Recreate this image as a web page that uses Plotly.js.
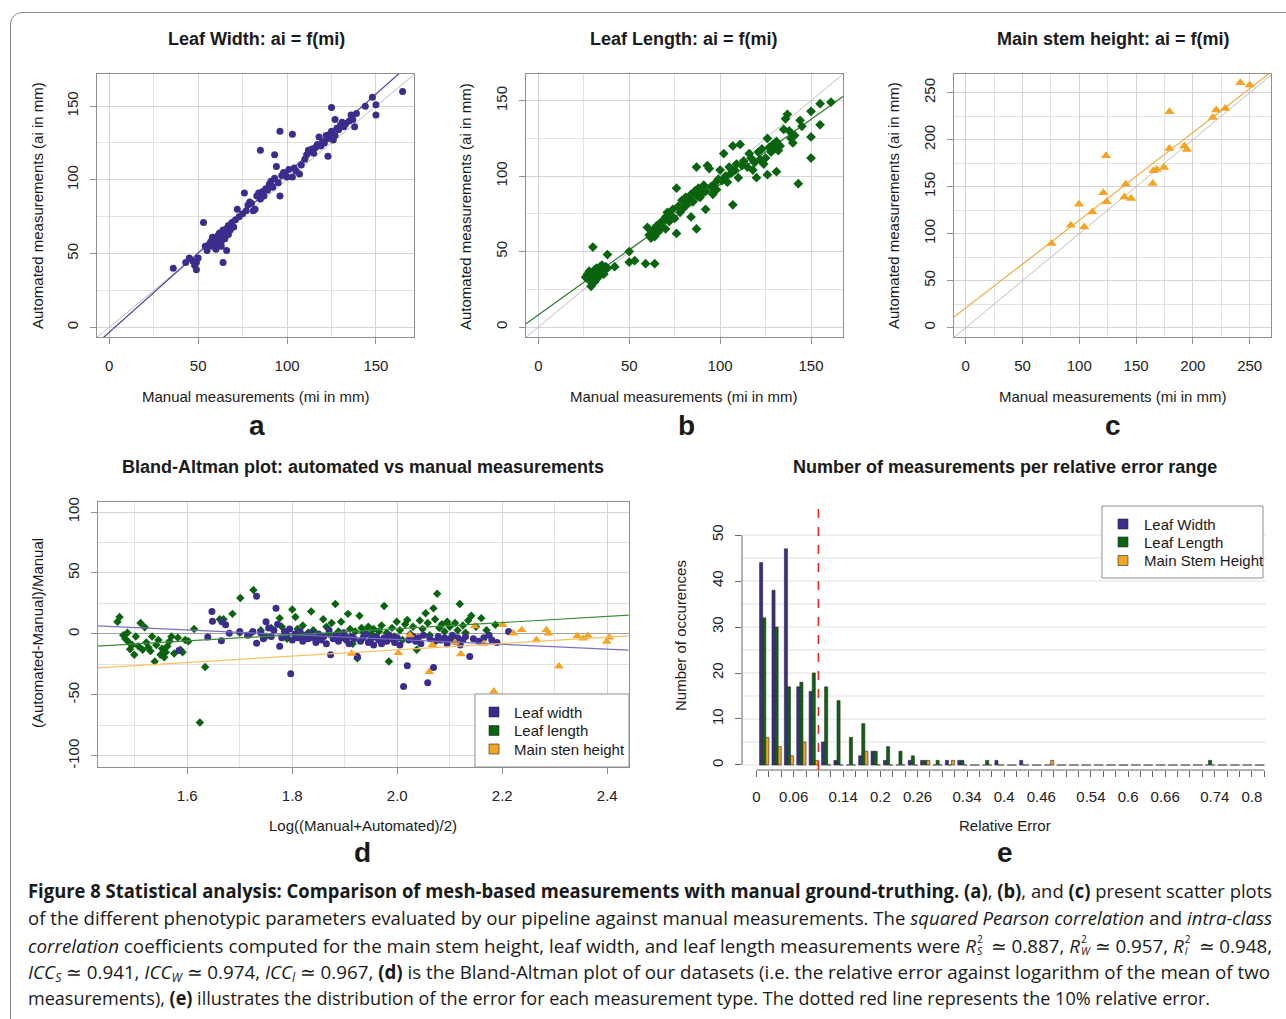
<!DOCTYPE html>
<html><head><meta charset="utf-8">
<script src="https://cdn.plot.ly/plotly-3.0.1.min.js"></script>
<style>
html,body{margin:0;padding:0;background:#fff;}
body{width:1286px;height:1019px;overflow:hidden;position:relative;}
#plot{position:absolute;left:0;top:0;width:1286px;height:1019px;}
#frame{position:absolute;left:10px;top:12px;width:1300px;height:1060px;border:1px solid #8a8a8a;border-radius:12px;box-sizing:border-box;pointer-events:none;}
.cap{position:absolute;left:28px;height:20px;line-height:20px;white-space:nowrap;font-family:"Open Sans","Noto Sans",sans-serif;font-size:19px;color:#1a1a1a;}
.cap span.inner{display:inline-block;transform-origin:0 50%;}
.st{display:inline-block;position:relative;width:10px;height:19px;vertical-align:baseline;}
.st .sp{position:absolute;left:1px;top:0px;font-size:10.5px;line-height:10px;}
.st .sb{position:absolute;left:1px;top:12px;font-size:10.5px;line-height:10px;font-style:italic;}
sub.s{font-size:0.65em;vertical-align:-0.25em;line-height:0;}
</style></head>
<body>
<div id="plot"></div>
<div id="frame"></div>
<div class="cap" id="c1" style="top:881px" data-w="1244"><span class="inner"><b>Figure 8 Statistical analysis: Comparison of mesh-based measurements with manual ground-truthing. (a)</b>, <b>(b)</b>, and <b>(c)</b> present scatter plots</span></div>
<div class="cap" id="c2" style="top:908px" data-w="1244"><span class="inner">of the different phenotypic parameters evaluated by our pipeline against manual measurements. The <i>squared Pearson correlation</i> and <i>intra-class</i></span></div>
<div class="cap" id="c3" style="top:934px" data-w="1244"><span class="inner"><i>correlation</i> coefficients computed for the main stem height, leaf width, and leaf length measurements were <i>R</i><span class="st"><span class="sp">2</span><span class="sb">S</span></span> ≃ 0.887, <i>R</i><span class="st"><span class="sp">2</span><span class="sb">W</span></span> ≃ 0.957, <i>R</i><span class="st"><span class="sp">2</span><span class="sb">l</span></span> ≃ 0.948,</span></div>
<div class="cap" id="c4" style="top:962px" data-w="1242"><span class="inner"><i>ICC<sub class="s">S</sub></i> ≃ 0.941, <i>ICC<sub class="s">W</sub></i> ≃ 0.974, <i>ICC<sub class="s">l</sub></i> ≃ 0.967, <b>(d)</b> is the Bland-Altman plot of our datasets (i.e. the relative error against logarithm of the mean of two</span></div>
<div class="cap" id="c5" style="top:988px" data-w="1182"><span class="inner">measurements), <b>(e)</b> illustrates the distribution of the error for each measurement type. The dotted red line represents the 10% relative error.</span></div>
<script>
// ---------------- DATA ----------------
// Panel a: Leaf width [manual, automated]
const leafWidthPts = [[36,40],[43,44],[45,47],[47,45],[48,42],[49,39],[49,44],[50,47],
[53,71],[54,55],[55,52],[56,56],[57,58],[58,55],[58,61],[59,57],[60,59],[60,53],[61,62],[61,56],[62,60],[62,64],[63,58],[63,55],[64,62],[64,66],[64,44],[65,60],[65,64],[66,67],[66,52],[67,63],[67,69],[68,66],[69,71],[70,68],[71,73],[72,80],[73,75],[75,77],[76,91],[77,79],[78,83],[79,85],[80,84],[81,79],[82,80],[83,89],[84,91],[85,87],[85,120],[86,92],[87,89],[88,94],[89,93],[90,97],[91,99],[92,95],[93,117],[93,101],[94,109],[95,98],[96,133],[96,89],[97,103],[98,105],[99,104],[100,102],[101,107],[103,131],[103,102],[104,108],[105,106],[107,104],[108,110],[110,114],[111,117],[112,120],[113,119],[114,121],[115,118],[116,122],[117,124],[118,129],[119,123],[120,126],[121,125],[122,130],[123,116],[123,128],[124,131],[125,133],[125,149],[126,127],[127,141],[127,130],[128,135],[129,134],[130,137],[131,139],[132,136],[133,138],[135,140],[136,144],[137,141],[138,136],[139,145],[144,150],[148,156],[150,151],[150,144],[165,160]];
// Panel b: Leaf length [manual, automated]
const leafLengthPts = [[26,33],[27,35],[28,31],[28,37],[29,27],[29,34],[30,36],[30,53],[30,32],[31,38],[31,30],[32,35],[32,39],[33,36],[33,33],[34,40],[34,37],[35,38],[35,41],[36,39],[36,35],[37,40],[38,48],[38,39],[42,40],[50,50],[50,43],[53,44],[59,42],[64,42],
[60,66],[61,61],[62,59],[63,64],[64,60],[65,67],[66,63],[67,69],[68,66],[69,71],[70,65],[70,73],[71,76],[72,70],[73,74],[74,78],[75,72],[76,92],[76,62],[77,80],[78,76],[79,84],[80,79],[81,86],[82,82],[83,85],[84,73],[84,88],[85,83],[86,90],[87,106],[87,65],[87,87],[88,92],[89,86],[90,89],[91,94],[92,78],[92,90],[93,107],[94,105],[95,93],[96,88],[97,95],[98,91],[99,98],[100,104],[101,97],[102,115],[103,100],[104,96],[105,106],[106,102],[107,120],[107,81],[108,104],[109,108],[110,99],[111,121],[112,107],[113,110],[115,106],[116,115],[117,112],[118,104],[119,109],[120,99],[121,116],[122,111],[123,118],[124,108],[125,112],[126,125],[126,101],[127,119],[128,116],[129,121],[130,118],[131,103],[131,123],[132,117],[133,120],[135,131],[136,138],[137,141],[138,130],[139,125],[140,122],[141,127],[143,95],[144,137],[145,133],[150,143],[150,126],[150,112],[155,148],[155,134],[161,149]];
// Panel c: Main stem height [manual, automated]
const stemHeightPts = [[75.6,89.5],[92.6,109],[99.7,131.4],[104.4,107],[111.5,123],[121.2,143.5],[123.5,183],[124.1,134],[139.7,139],[140.9,152.7],[145.6,137.4],[164.7,153.4],[165.3,167],[168.2,168.3],[174.7,170.5],[179.4,190.7],[179.4,229.8],[192.6,193.2],[194.7,189.6],[217.6,223.7],[220.6,231.5],[228.5,233.3],[241.8,260.7],[250,258.2]];
// regression fits [slope, intercept]
const fitWidth = [1.077, -3.4], fitLength = [0.863, 8.1], fitStem = [0.933, 21.0];

// Panel d: Bland-Altman [log mean, relative error %]
const baLength = [[1.467,10],[1.471,14],[1.478,-1],[1.482,-4],[1.486,1],[1.489,-7],[1.491,-12.6],[1.495,-9],[1.499,-17],[1.502,-2],[1.507,-10],[1.511,9],[1.515,-13],[1.519,5.5],[1.522,-7],[1.526,-11],[1.53,-14],[1.533,-2],[1.538,-22.5],[1.541,-9],[1.545,-5],[1.549,-17],[1.552,-12],[1.556,-19],[1.559,-15],[1.562,-10],[1.566,-6],[1.57,-2],[1.575,-16],[1.582,-3],[1.587,-13],[1.591,-15],[1.596,-5],[1.602,-6],[1.613,4],[1.624,-72.5],[1.634,-27],[1.662,12],[1.669,12],[1.686,16.5],[1.701,29.5],[1.726,36],
[1.7,1],[1.72,0],[1.74,3],[1.75,-2],[1.76,5],[1.776,13],[1.78,6],[1.79,-4],[1.8,20],[1.806,14],[1.81,4],[1.815,-2],[1.82,7],[1.83,1],[1.836,18.5],[1.84,3],[1.85,-3],[1.859,12],[1.865,6],[1.87,0],[1.875,9],[1.882,24.5],[1.888,2],[1.893,10],[1.9,-1],[1.906,16.5],[1.91,4],[1.915,-8],[1.92,2],[1.924,-20],[1.928,15],[1.932,5],[1.935,1],[1.94,3],[1.945,6],[1.95,0],[1.955,4],[1.96,-3],[1.965,2],[1.97,7],[1.975,23],[1.98,1],[1.984,-22.5],[1.99,5],[1.995,-2],[1.999,10],[2.005,3],[2.01,-5],[2.015,8],[2.019,11.5],[2.025,0],[2.03,6],[2.037,-13],[2.043,11],[2.048,4],[2.054,17],[2.058,9],[2.062,-1],[2.069,21],[2.072,12],[2.076,33],[2.08,5],[2.085,8],[2.09,2],[2.095,10],[2.1,6],[2.105,-2],[2.11,9],[2.115,3],[2.119,24.5],[2.125,7],[2.13,1],[2.135,11],[2.141,15],[2.15,6],[2.16,13],[2.17,3],[2.187,7.5]];
const baWidth = [[1.584,-13.5],[1.639,-2.5],[1.647,18.5],[1.648,10.5],[1.665,-5.5],[1.666,10],[1.673,7.5],[1.68,0.5],[1.7,2],[1.715,-1],[1.725,2],[1.732,31],[1.732,-7.5],[1.74,1],[1.745,-4],[1.75,10],[1.755,5],[1.76,-2],[1.765,3],[1.769,21],[1.772,8],[1.776,-10],[1.78,-3],[1.785,2],[1.79,-1],[1.795,4],[1.797,-32.5],[1.8,-5],[1.805,0],[1.81,-3],[1.815,2],[1.82,-6],[1.825,-1],[1.83,-4],[1.835,1],[1.84,-3],[1.845,-7],[1.85,0],[1.855,-5],[1.86,-2],[1.865,-8],[1.87,3],[1.873,-17],[1.878,-4],[1.883,-1],[1.888,-6],[1.893,-3],[1.898,1],[1.903,-5],[1.908,-8],[1.913,-2],[1.918,-4],[1.924,-18.5],[1.93,-6],[1.935,-3],[1.94,0],[1.945,-7],[1.95,-4],[1.955,-9],[1.96,-2],[1.965,-5],[1.97,-8],[1.975,-3],[1.98,-6],[1.985,-1],[1.99,-4],[1.995,-7],[2.0,-3],[2.005,-9],[2.012,-43],[2.019,-26],[2.022,-5],[2.03,-2],[2.035,-6],[2.04,-3],[2.045,-8],[2.05,-1],[2.058,-40],[2.062,-4],[2.069,-27.5],[2.072,-6],[2.078,-2],[2.083,-5],[2.09,-3],[2.095,-8],[2.1,-4],[2.105,-1],[2.11,-6],[2.115,-3],[2.12,-9],[2.125,-5],[2.13,-2],[2.138,-18.5],[2.145,-4],[2.155,-6],[2.165,-3],[2.175,-1],[2.18,-5],[2.19,-7],[2.212,2]];
const baStem = [[1.913,-16],[2.002,-15.5],[2.024,-1],[2.061,-31],[2.067,-9],[2.11,-7],[2.121,-16.5],[2.147,6.5],[2.165,-8],[2.184,-47],[2.201,7.5],[2.221,0.5],[2.237,3.3],[2.265,-5],[2.284,3.3],[2.288,0.5],[2.308,-26.5],[2.343,-1.6],[2.354,-3.6],[2.363,-1.4],[2.399,-6.3],[2.404,-2.7]];
const baFitWidth = [-19.62, 34.7], baFitLength = [25.07, -45.8], baFitStem = [25.87, -64.75];
const baYTicks = [-100,-50,0,50,100], baYLabels = ['-100','-50','0','50','100'];

// Panel e: histogram of relative error, bins of width 0.02 (left edges)
const errEdges = [0,0.02,0.04,0.06,0.08,0.1,0.12,0.14,0.16,0.18,0.2,0.22,0.24,0.26,0.28,0.3,0.32,0.34,0.36,0.38,0.4,0.42,0.44,0.46,0.48,0.5,0.52,0.54,0.56,0.58,0.6,0.62,0.64,0.66,0.68,0.7,0.72,0.74,0.76,0.78,0.8,0.82];
const errLabels = ['0','','','0.06','','','','0.14','','','0.2','','','0.26','','','','0.34','','','0.4','','','0.46','','','','0.54','','','0.6','','','0.66','','','','0.74','','','0.8',''];
const cntWidth  = [44,38,47,17,16,5,1,0,2,3,1,0,1,1,0,1,1,0,0,1,0,1,0,0,0,0,0,0,0,0,0,0,0,0,0,0,0,0,0,0,0];
const cntLength = [32,30,17,18,20,17,14,6,9,3,4,3,2,1,1,0,1,0,1,0,0,0,0,0,0,0,0,0,0,0,0,0,0,0,0,0,1,0,0,0,0];
const cntStem   = [6,4,2,5,1,0,0,0,3,0,0,0,0,1,0,1,0,0,0,0,0,0,0,1,0,0,0,0,0,0,0,0,0,0,0,0,0,0,0,0,0];
const errThreshold = 0.1;

// ---------------- STYLE ----------------
const W=1286,H=1019;
const px=x=>x/W, py=y=>1-y/H;
const BLUE='#3b2d8c', GREEN='#0a640f', ORANGE='#f4a322';
const FONT='"Liberation Sans", Arial, Helvetica, sans-serif';
const TF=15;

const rangeAX=[-6.9,171.4], rangeAY=[-6.6,171.8];
const rangeBX=[-6.8,167.6], rangeBY=[-6.6,167.7];
const rangeCX=[-10.3,268.8], rangeCY=[-9.9,269.9];
const rangeDX=[1.429,2.441], rangeDY=[-108.8,108.2];
const rangeEX=[-0.0234,0.826], rangeEY=[-1.09,56.96];

function boxAxis(range, d0, d1, anchor, dtick, minor, isY, extra){
  return Object.assign({
    range, domain: isY ? [py(d1), py(d0)] : [px(d0), px(d1)], anchor,
    tick0:0, dtick, showgrid:true, gridcolor:'#d4d4d4', gridwidth:1,
    minor:{tick0:0, dtick:minor, showgrid:true, gridcolor:'#e2e2e2', gridwidth:1, ticks:''},
    zeroline:false, showline:true, mirror:true, linecolor:'#8f8f8f', linewidth:1,
    ticks:'outside', ticklen:6, tickcolor:'#8f8f8f', tickwidth:1,
    tickfont:{size:TF, color:'#222'}, tickangle: isY ? -90 : 0,
    ticklabelstandoff: isY ? 6 : 9, fixedrange:true
  }, extra||{});
}
const xs=a=>a.map(p=>p[0]), ys=a=>a.map(p=>p[1]);
function fitLine(fit, range, xa, ya, color){
  return {x:range, y:range.map(v=>fit[0]*v+fit[1]), xaxis:xa, yaxis:ya, mode:'lines', type:'scatter',
    line:{color, width:1.2}, hoverinfo:'skip', showlegend:false, cliponaxis:true};
}
function idLine(range, xa, ya){
  return {x:range, y:range, xaxis:xa, yaxis:ya, mode:'lines', type:'scatter',
    line:{color:'#b5b5b5', width:0.9}, hoverinfo:'skip', showlegend:false};
}
function pts(data, xa, ya, color, symbol, size){
  return {x:xs(data), y:ys(data), xaxis:xa, yaxis:ya, mode:'markers', type:'scatter',
    marker:{color, symbol, size, line:{width:0}}, showlegend:false, cliponaxis:true};
}

const traces = [
  idLine(rangeAX,'x','y'), fitLine(fitWidth, rangeAX,'x','y', '#4a3fa0'), pts(leafWidthPts,'x','y',BLUE,'circle',7),
  idLine(rangeBX,'x2','y2'), fitLine(fitLength, rangeBX,'x2','y2', '#2f7a30'), pts(leafLengthPts,'x2','y2',GREEN,'diamond',7.5),
  idLine(rangeCX,'x3','y3'), fitLine(fitStem, rangeCX,'x3','y3', '#f2ad45'), pts(stemHeightPts,'x3','y3',ORANGE,'triangle-up',9),
  pts(baLength,'x4','y4',GREEN,'diamond',6.5), pts(baWidth,'x4','y4',BLUE,'circle',7), pts(baStem,'x4','y4',ORANGE,'triangle-up',8.5),
  fitLine(baFitWidth, rangeDX,'x4','y4','#7a70c0'), fitLine(baFitLength, rangeDX,'x4','y4','#3d8a3a'), fitLine(baFitStem, rangeDX,'x4','y4','#f7c163'),
];
const binX = errEdges.slice(0, cntWidth.length);
[[cntWidth,BLUE,0.005],[cntLength,GREEN,0.010],[cntStem,ORANGE,0.015]].forEach(([c,col,off])=>{
  traces.push({type:'bar', x:binX, y:c, xaxis:'x5', yaxis:'y5', width:0.005, offset:off,
    marker:{color:col, line:{color:'#2a2a2a', width:0.6}}, showlegend:false, hoverinfo:'skip'});
});

// ---------------- LAYOUT ----------------
const shapes=[];
for(let v=0; v<=50; v+=5){
  shapes.push({type:'line', xref:'paper', yref:'y5', x0:px(742), x1:px(1266), y0:v, y1:v, line:{color:'#e0e0e0', width:1}, layer:'below'});
}
shapes.push({type:'line', xref:'paper', yref:'y5', x0:px(742), x1:px(742), y0:0, y1:50, line:{color:'#666', width:1}});
shapes.push({type:'line', xref:'x5', yref:'paper', x0:0, x1:errEdges[errEdges.length-1], y0:py(770), y1:py(770), line:{color:'#666', width:1}});
shapes.push({type:'line', xref:'x5', yref:'y5 domain', x0:errThreshold, x1:errThreshold, y0:0, y1:1, line:{color:'#e8281e', width:1.6, dash:'dash'}, layer:'above'});
function legendBox(x0,y0,x1,y1){ shapes.push({type:'rect', xref:'paper', yref:'paper', x0:px(x0), x1:px(x1), y0:py(y0), y1:py(y1), line:{color:'#8f8f8f', width:1}, fillcolor:'#fff', layer:'above'}); }
function legendSq(x,y,col){ shapes.push({type:'rect', xref:'paper', yref:'paper', x0:px(x-5), x1:px(x+5), y0:py(y-5), y1:py(y+5), line:{color:'#2a2a2a', width:0.6}, fillcolor:col, layer:'above'}); }
legendBox(475,694,629,767);
legendSq(494,712,BLUE); legendSq(494,730.5,GREEN); legendSq(494,749,ORANGE);
legendBox(1102,506,1263,578);
legendSq(1123,524,BLUE); legendSq(1123,542,GREEN); legendSq(1123,560.5,ORANGE);

const annotations=[];
function ann(text,x,y,size,opts){
  annotations.push(Object.assign({text, x:px(x), y:py(y), xref:'paper', yref:'paper', showarrow:false,
    xanchor:'center', yanchor:'middle', font:{family:FONT, size, color:'#1a1a1a'}}, opts||{}));
}
ann('<b>Leaf Width: ai = f(mi)</b>',256,39,18);
ann('<b>Leaf Length: ai = f(mi)</b>',684,39,18);
ann('<b>Main stem height: ai = f(mi)</b>',1113,39,18);
[256,684,1113].forEach(x=>ann('Manual measurements (mi in mm)',x,396,15));
[37,465,893].forEach(x=>ann('Automated measurements (ai in mm)',x,206,15,{textangle:-90}));
ann('<b>a</b>',257,425,28); ann('<b>b</b>',686,425,28); ann('<b>c</b>',1113,425,28);
ann('<b>Bland-Altman plot: automated vs manual measurements</b>',363,467,18);
ann('<b>Number of measurements per relative error range</b>',1005,467,18);
ann('Log((Manual+Automated)/2)',363,825,15);
ann('(Automated-Manual)/Manual',37,633,15,{textangle:-90});
ann('Relative Error',1005,825,15);
ann('Number of occurences',680,635,15,{textangle:-90});
ann('<b>d</b>',362,852,28); ann('<b>e</b>',1005,852,28);
const legD=['Leaf width','Leaf length','Main sten height'], legE=['Leaf Width','Leaf Length','Main Stem Height'];
[712,730.5,749].forEach((y,i)=>ann(legD[i],512,y,15,{xanchor:'left'}));
[524,542,560.5].forEach((y,i)=>ann(legE[i],1142,y,15,{xanchor:'left'}));

const layout = {
  width:W, height:H, margin:{l:0,r:0,t:0,b:0}, paper_bgcolor:'#fff', plot_bgcolor:'#fff',
  font:{family:FONT, size:TF, color:'#222'}, showlegend:false, barmode:'overlay',
  xaxis: boxAxis(rangeAX,97,414,'y',50,25,false),
  yaxis: boxAxis(rangeAY,74,337,'x',50,25,true),
  xaxis2: boxAxis(rangeBX,526,843,'y2',50,25,false),
  yaxis2: boxAxis(rangeBY,74,337,'x2',50,25,true),
  xaxis3: boxAxis(rangeCX,954,1271,'y3',50,25,false),
  yaxis3: boxAxis(rangeCY,74,337,'x3',50,25,true),
  xaxis4: boxAxis(rangeDX,97.5,628.8,'y4',0.2,0.1,false,{tickformat:'.1f'}),
  yaxis4: boxAxis(rangeDY,502,766.7,'x4',50,25,true,{tickmode:'array', tickvals:baYTicks, ticktext:baYLabels,
           minor:{tickmode:'linear', tick0:0, dtick:25, showgrid:true, gridcolor:'#e2e2e2', gridwidth:1, ticks:''},
           zeroline:true, zerolinecolor:'#a0a0a0', zerolinewidth:1}),
  xaxis5: {range:rangeEX, domain:[px(742),px(1268)], anchor:'y5', tickmode:'array', tickvals:errEdges, ticktext:errLabels,
    showgrid:false, zeroline:false, showline:false, ticks:'outside', ticklen:6, tickcolor:'#666', tickwidth:1,
    tickfont:{size:TF,color:'#222'}, ticklabelstandoff:7, fixedrange:true},
  yaxis5: {range:rangeEY, domain:[py(770),py(503)], anchor:'x5', tick0:0, dtick:10, showgrid:false, zeroline:false, showline:false,
    ticks:'outside', ticklen:6, tickcolor:'#666', tickwidth:1, tickangle:-90, tickfont:{size:TF,color:'#222'}, ticklabelstandoff:6, fixedrange:true},
  shapes, annotations
};
Plotly.newPlot('plot', traces, layout, {displayModeBar:false, staticPlot:true});

function fitCaption(){
  document.querySelectorAll('.cap').forEach(d=>{
    const s=d.querySelector('.inner'); s.style.transform='none';
    const w=s.getBoundingClientRect().width; const t=+d.dataset.w;
    s.style.transform='scaleX('+(t/w)+')';
  });
}
fitCaption();
if(document.fonts&&document.fonts.ready) document.fonts.ready.then(fitCaption);
</script>
</body></html>
